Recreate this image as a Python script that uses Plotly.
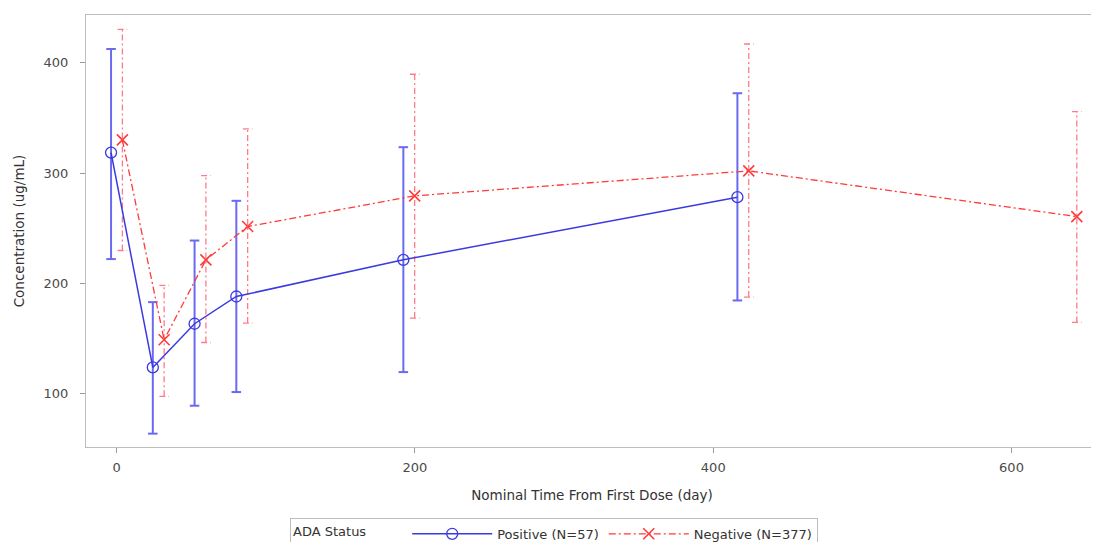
import plotly.graph_objects as go

# ---- data ----
nominal_pos = [0, 28, 56, 84, 196, 420]
mean_pos = [318.5, 123.8, 163.4, 188.1, 221.3, 278.1]
upper_pos = [412.4, 183.0, 238.8, 274.8, 323.4, 372.3]
lower_pos = [222.0, 63.8, 89.1, 101.5, 119.6, 184.5]

nominal_neg = [0, 28, 56, 84, 196, 420, 640]
mean_neg = [330.0, 148.9, 221.3, 251.5, 279.3, 301.9, 260.5]
upper_neg = [430.2, 198.1, 297.7, 340.0, 389.5, 416.9, 355.6]
lower_neg = [229.8, 97.6, 146.4, 164.0, 168.5, 187.6, 164.6]

x_ticks = [0, 200, 400, 600]
y_ticks = [100, 200, 300, 400]

CLUSTER = 3.8   # group offset (days) for display
CAP = 3.2       # half cap width (days)

BLUE = "#3a3ae0"
BLUE_ERR = "#6a6af0"
RED = "#ff3a3a"
RED_ERR = "#ff7a8a"
FONT = "DejaVu Sans, Verdana, sans-serif"


def err_segments(xs, lo, hi):
    ex, ey = [], []
    for x, l, h in zip(xs, lo, hi):
        ex += [x, x, None, x - CAP, x + CAP, None, x - CAP, x + CAP, None]
        ey += [l, h, None, h, h, None, l, l, None]
    return ex, ey


x_pos = [v - CLUSTER for v in nominal_pos]
x_neg = [v + CLUSTER for v in nominal_neg]

fig = go.Figure()

ex, ey = err_segments(x_pos, lower_pos, upper_pos)
fig.add_trace(go.Scatter(x=ex, y=ey, mode="lines", showlegend=False,
                         line=dict(color=BLUE_ERR, width=2), hoverinfo="skip"))
ex, ey = err_segments(x_neg, lower_neg, upper_neg)
fig.add_trace(go.Scatter(x=ex, y=ey, mode="lines", showlegend=False,
                         line=dict(color=RED_ERR, width=1.3, dash="6px,3px,2px,3px"),
                         hoverinfo="skip"))

fig.add_trace(go.Scatter(x=x_pos, y=mean_pos, mode="lines+markers",
                         name="Positive (N=57)",
                         line=dict(color=BLUE, width=1.5),
                         marker=dict(symbol="circle-open", size=11, color=BLUE,
                                     line=dict(width=1.3, color=BLUE))))
fig.add_trace(go.Scatter(x=x_neg, y=mean_neg, mode="lines+markers",
                         name="Negative (N=377)",
                         line=dict(color=RED, width=1.3, dash="7px,3px,2px,3px"),
                         marker=dict(symbol="x-thin-open", size=11, color=RED,
                                     line=dict(width=1.6, color=RED))))

axis_common = dict(showline=True, linecolor="#bdbdbd", linewidth=1, mirror=True,
                   ticks="outside", ticklen=5, tickcolor="#9a9a9a",
                   showgrid=False, zeroline=False, automargin=False,
                   tickfont=dict(size=13, color="#4a4a4a", family=FONT))

fig.update_xaxes(range=[-20.6, 658], tickvals=x_ticks, ticklabelstandoff=3,
                 title=dict(text="Nominal Time From First Dose (day)",
                            font=dict(size=13.5, color="#333", family=FONT), standoff=16),
                 **axis_common)
fig.update_yaxes(range=[51.7, 443.2], tickvals=y_ticks, ticklabelstandoff=9,
                 title=dict(text="Concentration (ug/mL)",
                            font=dict(size=13.5, color="#333", family=FONT), standoff=15),
                 **axis_common)

# the page body has an 8px margin, so the figure is sized to fit inside the window
fig.update_layout(
    width=1091, height=534,
    margin=dict(l=78, r=1, t=7, b=95, autoexpand=False),
    paper_bgcolor="white", plot_bgcolor="white",
    font=dict(family=FONT, size=13, color="#333"),
    legend=dict(orientation="h", x=0.2016, xanchor="left", y=-0.164, yanchor="top",
                title=dict(text="ADA Status        ", side="left",
                           font=dict(size=13, family=FONT)),
                bordercolor="#bdbdbd", borderwidth=1, itemwidth=80,
                tracegroupgap=0, valign="middle",
                font=dict(size=13, color="#333", family=FONT)),
)

fig.write_html("out.html")
